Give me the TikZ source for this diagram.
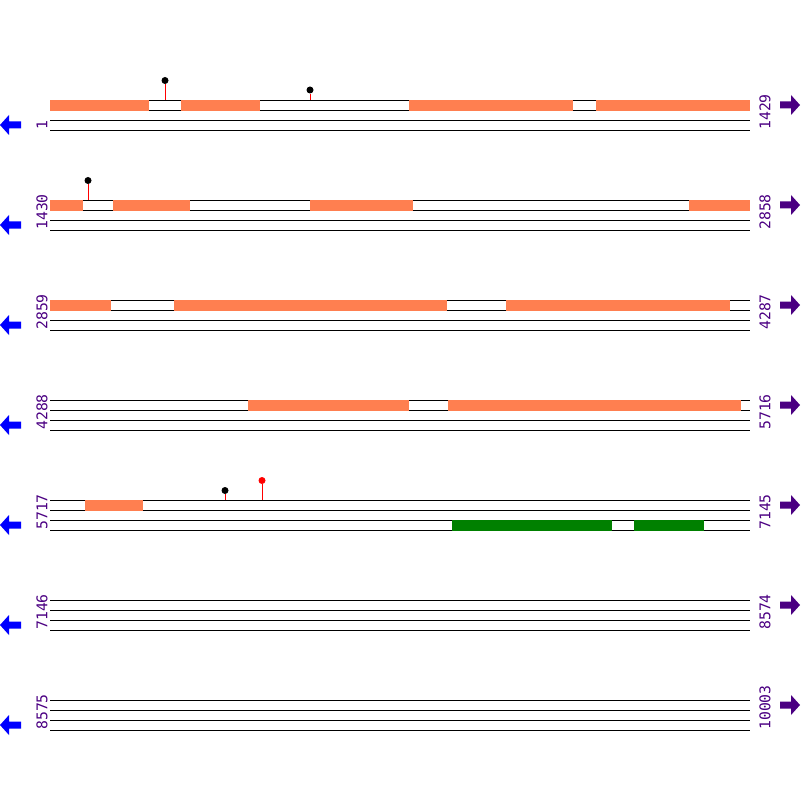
\documentclass[tikz,border=0pt]{standalone}
\usepackage{fontspec}
\setmonofont{DejaVu Sans Mono}
\definecolor{exoncol}{RGB}{255,127,80}
\definecolor{cdscol}{RGB}{0,128,0}
\definecolor{poscol}{RGB}{75,0,130}
\definecolor{revcol}{RGB}{0,0,255}
\tikzset{
  track/.style={line width=0.7pt, black},
  poslabel/.style={rotate=90, inner sep=0pt, text=poscol, font=\fontsize{10.5}{12}\selectfont\ttfamily},
  snphead/.style={circle, fill=black, inner sep=0pt, minimum size=0.175cm},
  snpstem/.style={line width=0.7pt, red},
}
\begin{document}
\begin{tikzpicture}[x=0.025cm, y=-0.025cm]
    \useasboundingbox (0,0) rectangle (800,800);
    \foreach \r/\s/\e in {0/1/1429, 1/1430/2858, 2/2859/4287, 3/4288/5716, 4/5717/7145, 5/7146/8574, 6/8575/10003} {
      \pgfmathtruncatemacro\y{100+100*\r}
      \foreach \k in {0,10,20,30} \draw[track] (50,\y+\k) -- (750,\y+\k); %% strands
      \node[poslabel, anchor=west] (start\r) at (42,\y+30) {\s};
      \node[poslabel, anchor=west] (end\r) at (765,\y+30) {\e};
      \fill[revcol] (0,\y+25) -- (9,\y+15) -- (9,\y+21.5) -- (21,\y+21.5) -- (21,\y+28.5) -- (9,\y+28.5) -- (9,\y+35) -- cycle; %% reverse
      \fill[poscol] (800,\y+5) -- (791,\y-5) -- (791,\y+1.5) -- (780,\y+1.5) -- (780,\y+8.5) -- (791,\y+8.5) -- (791,\y+15) -- cycle; %% forward
    }
    \fill[exoncol] (50,100) rectangle (149,111); \fill[exoncol] (181,100) rectangle (260,111); \fill[exoncol] (409,100) rectangle (573,111); \fill[exoncol] (596,100) rectangle (750,111); %% row 1
    \fill[exoncol] (50,200) rectangle (83,211); \fill[exoncol] (113,200) rectangle (190,211); \fill[exoncol] (310,200) rectangle (413,211); \fill[exoncol] (689,200) rectangle (750,211); %% row 2
    \fill[exoncol] (50,300) rectangle (111,311); \fill[exoncol] (174,300) rectangle (447,311); \fill[exoncol] (506,300) rectangle (730,311); %% row 3
    \fill[exoncol] (248,400) rectangle (409,411); \fill[exoncol] (448,400) rectangle (741,411); %% row 4
    \fill[exoncol] (85,500) rectangle (143,511); %% row 5
    \fill[cdscol] (452,520) rectangle (612,531); \fill[cdscol] (634,520) rectangle (704,531); %% row 5, reverse
    \coordinate (snp1) at (165,100); \node[snphead] (snp1h) at (165,80.5) {}; \draw[snpstem] (snp1) -- (snp1h);
    \coordinate (snp2) at (310,100); \node[snphead] (snp2h) at (310,90) {}; \draw[snpstem] (snp2) -- (snp2h);
    \coordinate (snp3) at (88,200); \node[snphead] (snp3h) at (88,180.5) {}; \draw[snpstem] (snp3) -- (snp3h);
    \coordinate (snp4) at (225,500); \node[snphead] (snp4h) at (225,490.5) {}; \draw[snpstem] (snp4) -- (snp4h);
    \coordinate (snp5) at (262,500); \node[snphead, fill=red] (snp5h) at (262,480.5) {}; \draw[snpstem] (snp5) -- (snp5h);
\end{tikzpicture}
\end{document}
